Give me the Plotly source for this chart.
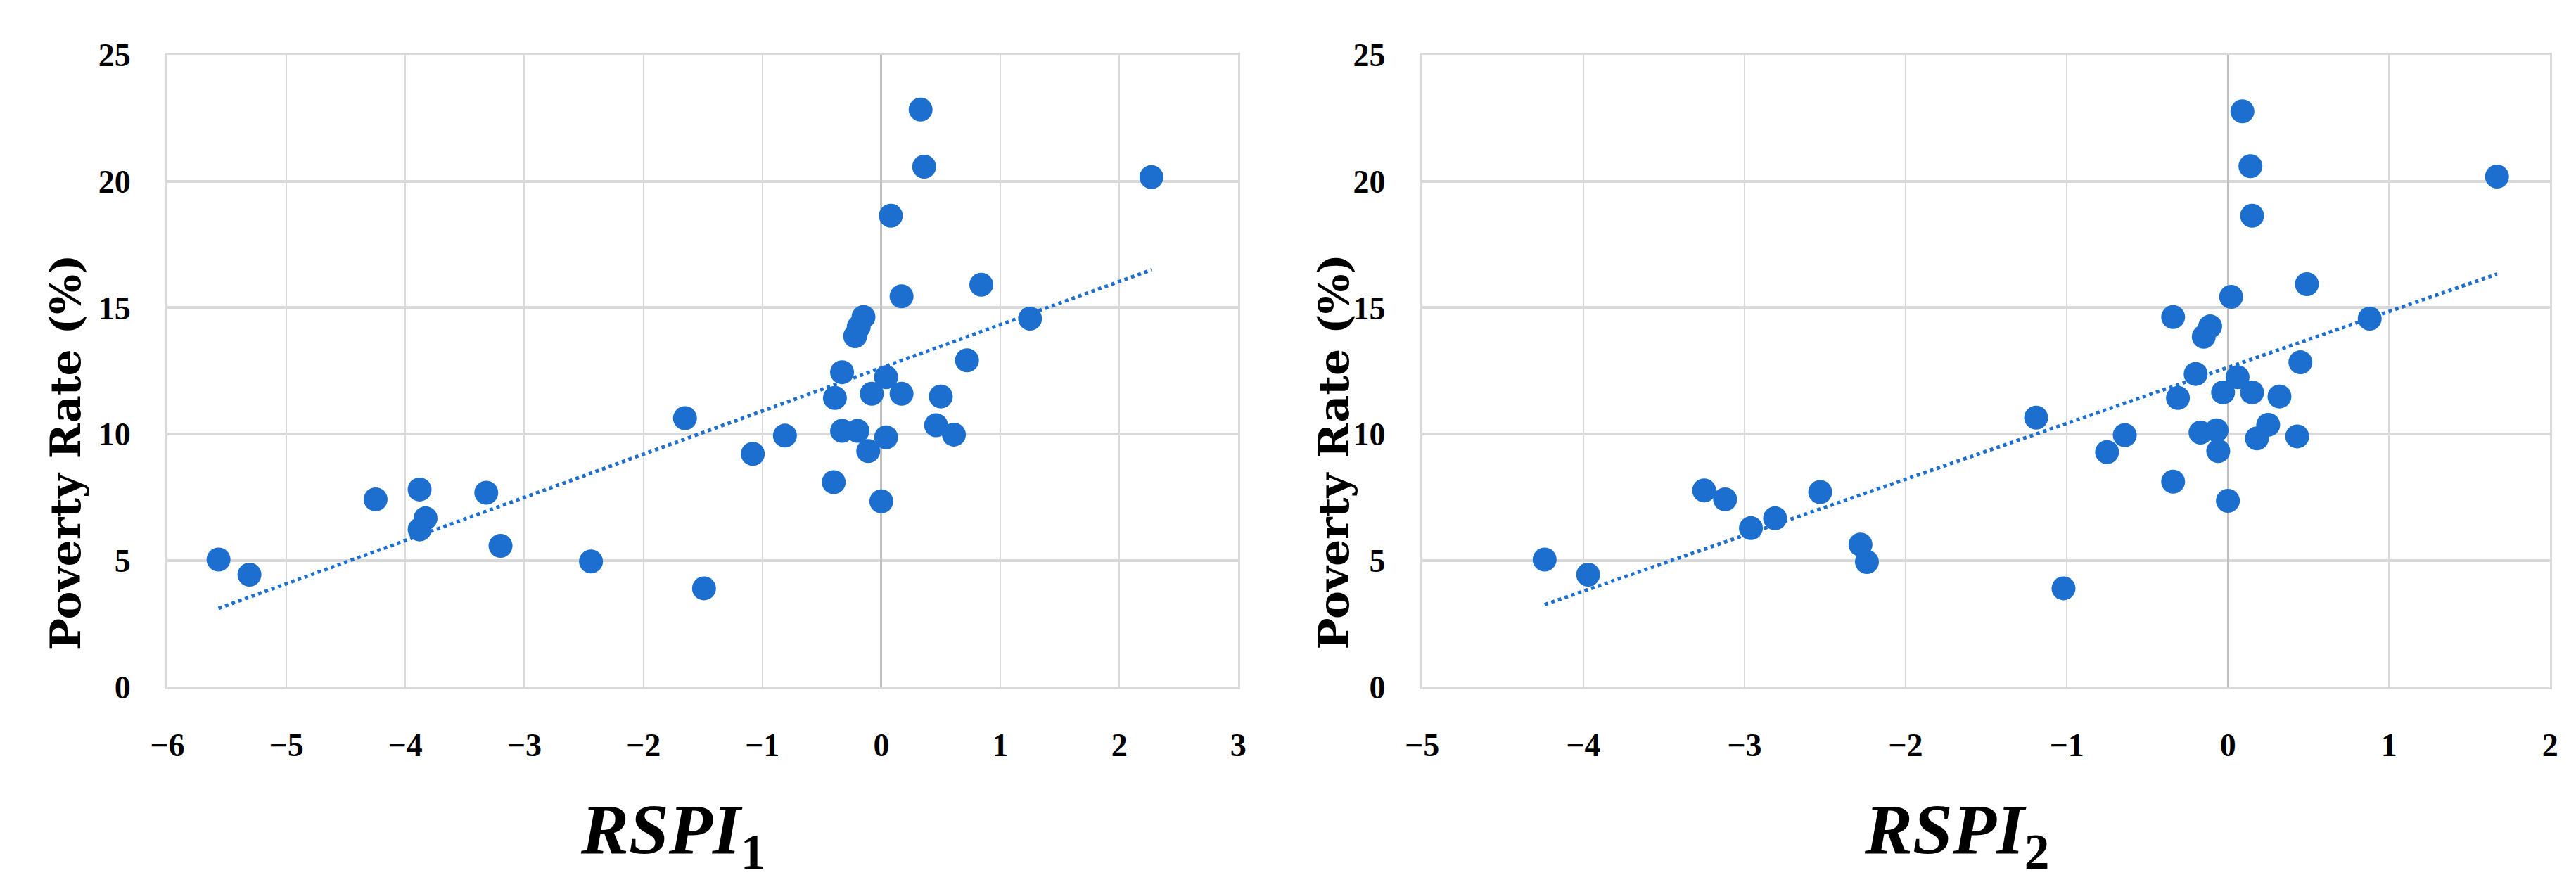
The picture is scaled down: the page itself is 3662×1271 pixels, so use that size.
import numpy as np
import plotly.graph_objects as go

# panel 1: RSPI_1 vs poverty rate
rspi1 = [-5.57, -5.31, -4.25, -3.88, -3.83, -3.88, -3.32, -3.20, -2.44, -1.65,
         -1.49, -1.08, -0.81, -0.40, -0.39, -0.33, -0.33, -0.20, -0.22, -0.19,
         -0.15, -0.11, -0.08, 0.00, 0.04, 0.04, 0.08, 0.17, 0.17, 0.33,
         0.36, 0.46, 0.50, 0.61, 0.72, 0.84, 1.25, 2.27]
poverty1 = [5.04, 4.44, 7.42, 7.81, 6.67, 6.23, 7.68, 5.58, 4.96, 10.63,
            3.90, 9.22, 9.94, 8.10, 11.43, 12.45, 10.13, 10.13, 13.87, 14.24,
            14.63, 9.33, 11.60, 7.34, 9.87, 12.25, 18.64, 15.45, 11.60, 22.84,
            20.58, 10.35, 11.49, 9.98, 12.92, 15.91, 14.57, 20.17]

# panel 2: RSPI_2 vs poverty rate
rspi2 = [-4.24, -3.97, -3.25, -3.12, -2.96, -2.81, -2.53, -2.28, -2.24, -1.19,
         -1.02, -0.75, -0.64, -0.34, -0.34, -0.31, -0.20, -0.17, -0.15, -0.11,
         -0.07, -0.06, -0.03, 0.00, 0.02, 0.06, 0.09, 0.14, 0.15, 0.15,
         0.18, 0.25, 0.32, 0.43, 0.45, 0.49, 0.88, 1.67]
poverty2 = [5.04, 4.44, 7.77, 7.42, 6.28, 6.67, 7.71, 5.63, 4.94, 10.65,
            3.90, 9.29, 9.96, 8.12, 14.63, 11.43, 12.38, 10.06, 13.85, 14.26,
            10.15, 9.33, 11.65, 7.36, 15.43, 12.25, 22.77, 20.60, 18.64, 11.65,
            9.83, 10.37, 11.49, 9.91, 12.84, 15.93, 14.57, 20.19]

x_ranges = [[-6, 3], [-5, 2]]
y_range = [0, 25]
y_title = "Poverty Rate (%)"
x_titles = ["RSPI", "RSPI"]
x_subs = ["1", "2"]

blue = "#1c6fcf"
grid = "#d9d9d9"
serif = "Liberation Serif"

W, H = 3662, 1271

fig = go.Figure()

panels = [(rspi1, poverty1), (rspi2, poverty2)]
x_domains = [[207 / W, 1745 / W], [2009 / W, 3629 / W]]
y_domain = [1 - 983 / H, 1 - 47 / H]
ytitle_x = [60 / W, 1882 / W]
xtitle_x = [933 / W, 2777 / W]

for i, (xs, ys) in enumerate(panels):
    xa = "x" if i == 0 else "x2"
    ya = "y" if i == 0 else "y2"
    # linear trend line like the excel chart
    m, b = np.polyfit(xs, ys, 1)
    x0, x1 = min(xs), max(xs)
    fig.add_trace(go.Scatter(x=[x0, x1], y=[m * x0 + b, m * x1 + b], mode="lines",
                             line=dict(color=blue, width=5, dash="dot"),
                             xaxis=xa, yaxis=ya, showlegend=False, hoverinfo="skip"))
    fig.add_trace(go.Scatter(x=xs, y=ys, mode="markers",
                             marker=dict(color=blue, size=34, line=dict(width=0)),
                             xaxis=xa, yaxis=ya, showlegend=False))

axis_common = dict(showgrid=True, gridcolor=grid, showline=True, linecolor=grid, linewidth=3,
                   mirror=True, ticks="", tickfont=dict(family=serif, size=46, color="black", weight="bold"))

fig.update_layout(
    width=W, height=H,
    margin=dict(l=0, r=0, t=0, b=0),
    paper_bgcolor="white", plot_bgcolor="white",
    xaxis=dict(domain=x_domains[0], range=x_ranges[0], dtick=1, anchor="y",
               zeroline=True, zerolinecolor="#bfbfbf", zerolinewidth=3, gridwidth=2,
               ticklabelstandoff=40, **axis_common),
    yaxis=dict(domain=y_domain, range=y_range, dtick=5, anchor="x",
               zeroline=False, gridwidth=4, ticklabelstandoff=40, **axis_common),
    xaxis2=dict(domain=x_domains[1], range=x_ranges[1], dtick=1, anchor="y2",
                zeroline=True, zerolinecolor="#bfbfbf", zerolinewidth=3, gridwidth=2,
                ticklabelstandoff=40, **axis_common),
    yaxis2=dict(domain=y_domain, range=y_range, dtick=5, anchor="x2",
                zeroline=False, gridwidth=4, ticklabelstandoff=40, **axis_common),
)

# axis titles
for i in range(2):
    fig.add_annotation(text="<b>" + y_title + "</b>", xref="paper", yref="paper",
                       x=ytitle_x[i], y=1 - 635 / H,
                       textangle=-90, showarrow=False, xanchor="center", yanchor="middle",
                       font=dict(family="DejaVu Serif", size=60, color="black"))
    fig.add_annotation(text="<b><i>" + x_titles[i] + "</i></b><sub><b>" + x_subs[i] + "</b></sub>",
                       xref="paper", yref="paper",
                       x=xtitle_x[i], y=1 - 1202 / H,
                       showarrow=False, xanchor="center", yanchor="middle",
                       font=dict(family=serif, size=102, color="black"))

fig.write_html("out.html")
